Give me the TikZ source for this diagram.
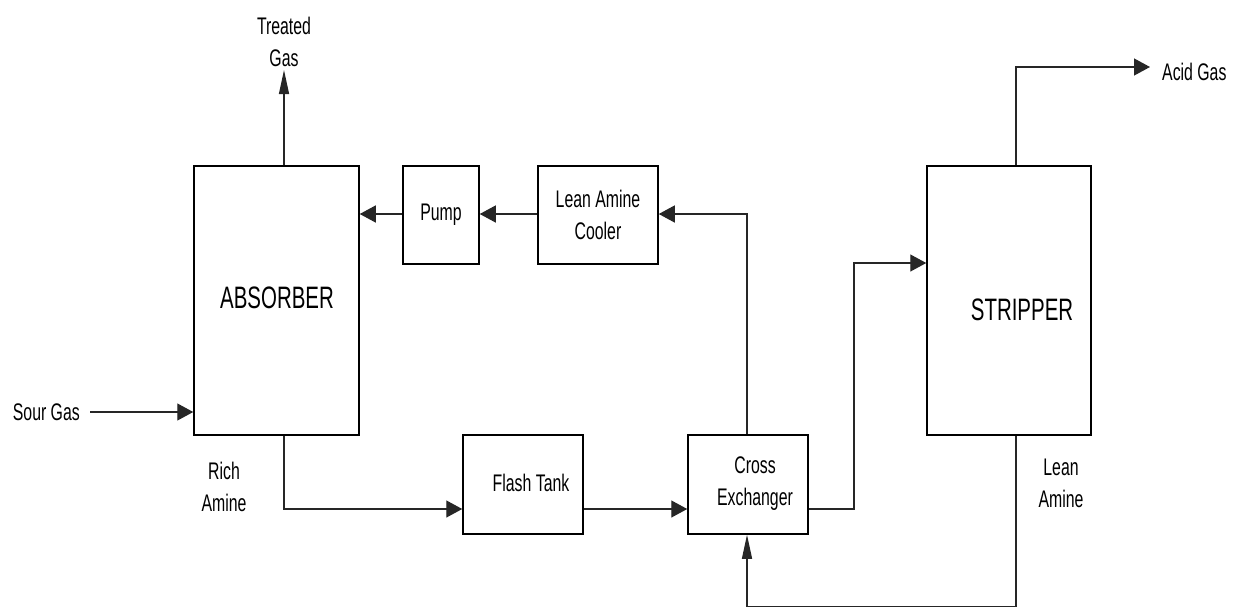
\documentclass[tikz,border=0pt]{standalone}
\usepackage{fontspec}
\setmainfont{Liberation Sans}[FakeStretch=0.66]
\usetikzlibrary{arrows.meta}
\begin{document}
\begin{tikzpicture}[x=1pt,y=-1pt,
  unit/.style={draw=black,line width=1.5pt,fill=white,inner sep=0pt},
  lbl/.style={inner sep=0pt,align=center,font=\fontsize{24}{32}\selectfont},
  big/.style={inner sep=0pt,font=\fontsize{31}{36}\selectfont},
  flow/.style={draw=black!85,line width=1.3pt},
  harr/.style={flow,-{Triangle[length=16pt,width=17pt]}},
  varr/.style={flow,-{Triangle[length=24pt,width=10pt]}}]
\useasboundingbox (0,0) rectangle (1246,608);
% units
\node[unit,minimum width=165pt,minimum height=269pt] (absorber) at (276.5,300.5) {};
\node[big] (abstxt) at (277,298) {ABSORBER};
\node[unit,minimum width=164pt,minimum height=269pt] (stripper) at (1009,300.5) {};
\node[big] (striptxt) at (1022,310) {STRIPPER};
\node[unit,lbl,minimum width=76pt,minimum height=98pt] (pump) at (441,215) {Pump};
\node[unit,lbl,minimum width=120pt,minimum height=98pt] (cooler) at (598,215) {Lean Amine\\Cooler};
\node[unit,minimum width=120pt,minimum height=99pt] (flash) at (523,484.5) {};
\node[lbl] (flashtxt) at (531,483) {Flash Tank};
\node[unit,minimum width=120pt,minimum height=99pt] (cross) at (748,484.5) {};
\node[lbl] (crosstxt) at (755,483.5) {Cross\\Exchanger};
% stream labels
\node[lbl] (treated) at (284,42) {Treated\\Gas};
\node[lbl,anchor=east] (sour) at (80,412) {Sour Gas};
\node[lbl] (rich) at (224,487) {Rich\\Amine};
\node[lbl] (lean) at (1061,483) {Lean\\Amine};
\node[lbl,anchor=west] (acid) at (1162,72) {Acid Gas};
% helper coordinates
\coordinate (tg) at (284,70);
\coordinate (sg) at (90,412);
\coordinate (ra) at (284,509);
\coordinate (lr) at (747,214);
\coordinate (st) at (854,263);
\coordinate (ag) at (1016,67);
\coordinate (agend) at (1150,67);
\coordinate (lb) at (1016,606.5);
\coordinate (lbl2) at (747,606.5);
% connectors
\draw[varr] (absorber.north -| tg) -- (tg);
\draw[harr] (sg) -- (sg -| absorber.west);
\draw[harr] (absorber.south -| ra) -- (ra) -- (ra -| flash.west);
\draw[harr] (ra -| flash.east) -- (ra -| cross.west);
\draw[harr] (cross.north -| lr) -- (lr) -- (lr -| cooler.east);
\draw[harr] (lr -| cooler.west) -- (lr -| pump.east);
\draw[harr] (lr -| pump.west) -- (lr -| absorber.east);
\draw[harr] (ra -| cross.east) -- (ra -| st) -- (st) -- (st -| stripper.west);
\draw[harr] (stripper.north -| ag) -- (ag) -- (agend);
\draw[varr] (stripper.south -| lb) -- (lb) -- (lbl2) -- (cross.south -| lbl2);
\end{tikzpicture}
\end{document}
